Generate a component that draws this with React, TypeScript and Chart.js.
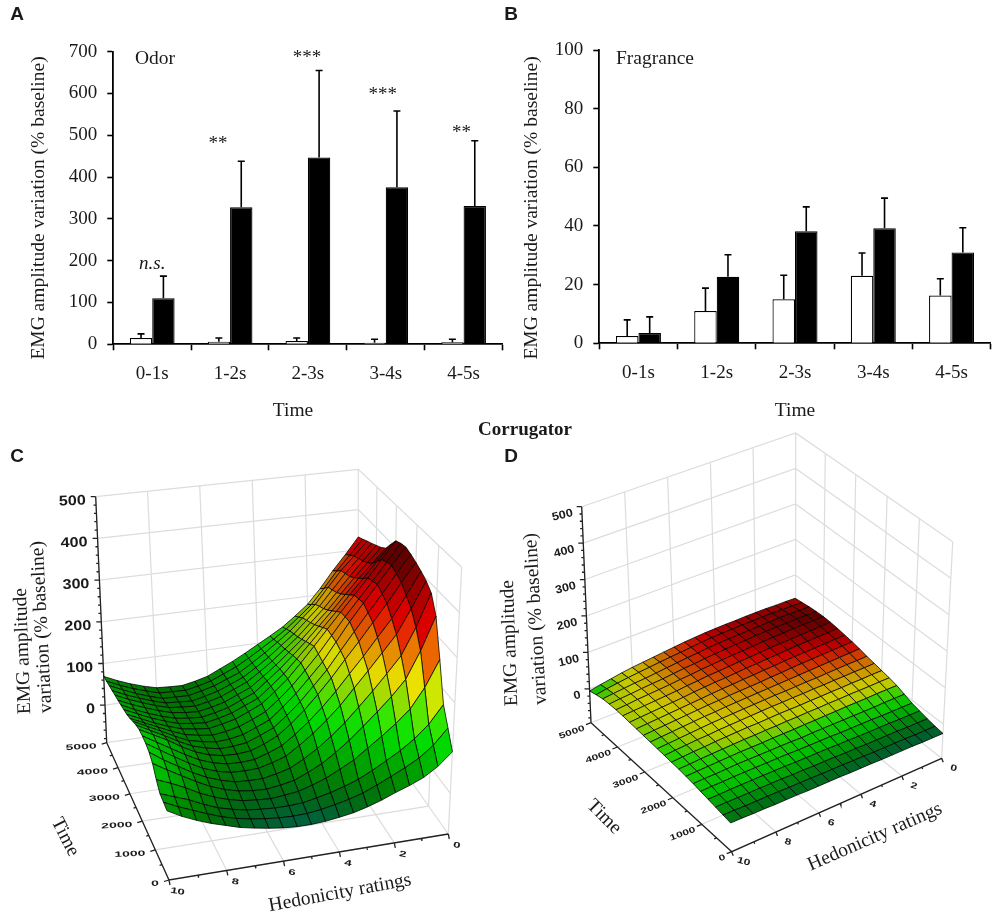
import { useEffect, useRef } from 'react';
import { Chart, registerables } from 'chart.js';

Chart.register(...registerables);

// Bar panels
const timeBins = ['0-1s', '1-2s', '2-3s', '3-4s', '4-5s'];

const odorPleasant = [15, 6, 8, 4, 5];
const odorPleasantTop = [25, 15, 15, 12, 12];
const odorUnpleasant = [110, 328, 447, 376, 331];
const odorUnpleasantTop = [163, 438, 655, 558, 487];
const odorSigLabels = ['n.s.', '**', '***', '***', '**'];
const odorSigValues = [192, 480, 684, 597, 506];
const odorSigShift = [0, -12, -1, -3, -2];

const fragrancePleasant = [2.5, 11, 15, 23, 16.3];
const fragrancePleasantTop = [8, 18.8, 23.2, 30.8, 22];
const fragranceUnpleasant = [3.5, 22.7, 38.2, 39.2, 31];
const fragranceUnpleasantTop = [9, 30.2, 46.5, 49.5, 39.4];

// Surface panels: one row per time step (0 to 5000), one column per rating (0 to 10)
const ratingSteps = [0, 0.5, 1, 1.5, 2, 2.5, 3, 3.5, 4, 4.5, 5, 5.5, 6, 6.5, 7, 7.5, 8, 8.5, 9, 9.5, 10];
const timeSteps = [0, 250, 500, 750, 1000, 1250, 1500, 1750, 2000, 2250, 2500, 2750, 3000, 3250, 3500, 3750, 4000, 4250, 4500, 4750, 5000];

const odorSurface = [
  [92, 64, 44, 31, 20, 8, -2, -10, -15, -19, -21, -21, -19, -15, -10, -4, 5, 14, 25, 38, 54],
  [130, 96, 72, 55, 40, 26, 13, 4, -3, -9, -13, -14, -13, -10, -6, 0, 8, 19, 31, 43, 57],
  [168, 128, 100, 78, 60, 43, 28, 17, 8, 1, -5, -7, -7, -5, -2, 4, 12, 24, 38, 49, 60],
  [255, 196, 152, 124, 100, 78, 56, 40, 25, 14, 5, 1, -2, 0, 3, 10, 20, 33, 49, 63, 75],
  [340, 265, 205, 170, 140, 112, 85, 62, 42, 27, 14, 8, 4, 5, 9, 17, 28, 43, 60, 77, 95],
  [380, 305, 245, 208, 173, 141, 110, 84, 61, 42, 26, 18, 12, 12, 14, 22, 33, 48, 66, 84, 105],
  [395, 335, 280, 242, 205, 170, 135, 106, 80, 58, 38, 28, 20, 19, 20, 27, 38, 54, 72, 91, 110],
  [405, 353, 303, 264, 225, 189, 153, 121, 93, 68, 47, 35, 25, 23, 24, 31, 42, 58, 76, 94, 112],
  [413, 370, 325, 285, 245, 208, 170, 136, 105, 78, 55, 41, 30, 27, 28, 34, 45, 61, 80, 96, 112],
  [420, 378, 335, 295, 255, 215, 175, 142, 110, 83, 59, 46, 34, 30, 29, 35, 44, 59, 76, 92, 108],
  [425, 385, 345, 305, 265, 222, 180, 147, 115, 88, 63, 50, 38, 32, 30, 35, 42, 56, 72, 87, 102],
  [422, 381, 340, 302, 264, 224, 185, 151, 119, 92, 68, 54, 42, 35, 31, 35, 41, 53, 67, 81, 95],
  [416, 375, 335, 298, 262, 226, 190, 155, 122, 96, 72, 58, 45, 38, 32, 35, 40, 50, 62, 76, 90],
  [396, 359, 322, 287, 251, 217, 183, 151, 120, 95, 71, 58, 45, 37, 31, 34, 38, 48, 59, 73, 87],
  [375, 342, 310, 275, 240, 207, 175, 146, 118, 94, 70, 57, 44, 36, 30, 32, 36, 45, 56, 69, 84],
  [365, 332, 299, 264, 229, 198, 167, 140, 114, 91, 69, 56, 43, 35, 29, 31, 35, 44, 55, 67, 81],
  [358, 324, 290, 255, 220, 190, 160, 135, 110, 88, 68, 55, 42, 34, 28, 30, 33, 42, 53, 65, 79],
  [351, 318, 285, 249, 213, 183, 154, 130, 106, 85, 66, 53, 41, 33, 26, 28, 30, 39, 50, 62, 76],
  [345, 312, 280, 243, 205, 176, 148, 125, 103, 83, 64, 52, 40, 32, 25, 26, 27, 36, 47, 60, 74],
  [338, 302, 267, 228, 192, 165, 140, 119, 100, 81, 64, 51, 38, 30, 24, 25, 26, 35, 45, 57, 71],
  [332, 292, 255, 215, 180, 155, 132, 114, 97, 80, 64, 50, 36, 28, 22, 23, 25, 33, 43, 55, 69],
];

const fragranceSurface = [
  [-25, -25, -25, -24, -24, -24, -24, -23, -23, -23, -22, -22, -22, -22, -21, -21, -21, -20, -20, -19, -19],
  [-22, -22, -22, -21, -21, -21, -21, -20, -20, -19, -19, -19, -18, -18, -18, -17, -17, -17, -17, -16, -16],
  [-18, -18, -18, -17, -17, -17, -17, -16, -16, -15, -15, -15, -14, -14, -13, -13, -13, -13, -13, -13, -13],
  [-13, -13, -13, -12, -12, -12, -12, -11, -11, -10, -10, -10, -10, -9, -9, -9, -9, -9, -9, -10, -10],
  [-8, -8, -8, -8, -7, -7, -7, -7, -6, -6, -6, -6, -5, -5, -5, -5, -5, -5, -6, -6, -7],
  [0, 0, 0, -1, -1, -1, -1, -1, -1, -1, -2, -1, -1, -1, -1, -1, -1, -2, -3, -3, -4],
  [8, 8, 8, 7, 7, 7, 6, 6, 5, 5, 4, 4, 4, 3, 3, 3, 2, 1, 0, -1, -2],
  [13, 13, 12, 12, 12, 11, 11, 10, 10, 9, 9, 8, 8, 7, 7, 6, 5, 4, 3, 1, 0],
  [17, 17, 16, 16, 15, 15, 14, 14, 13, 13, 13, 12, 11, 11, 10, 9, 8, 6, 5, 3, 1],
  [21, 20, 20, 19, 19, 18, 18, 17, 17, 16, 16, 15, 14, 13, 12, 11, 9, 8, 6, 4, 2],
  [25, 24, 24, 23, 22, 21, 21, 20, 19, 19, 18, 17, 16, 15, 14, 13, 11, 9, 7, 5, 3],
  [30, 29, 28, 27, 26, 25, 24, 23, 22, 21, 20, 19, 18, 17, 15, 14, 12, 10, 8, 6, 4],
  [34, 33, 32, 31, 30, 29, 28, 26, 25, 23, 22, 21, 20, 18, 17, 15, 13, 11, 9, 7, 5],
  [37, 36, 35, 34, 33, 32, 31, 29, 28, 26, 25, 23, 22, 20, 18, 16, 14, 12, 10, 8, 6],
  [40, 39, 38, 37, 36, 35, 33, 32, 30, 29, 27, 25, 24, 22, 20, 17, 15, 13, 11, 9, 7],
  [42, 41, 40, 39, 38, 37, 36, 34, 32, 31, 29, 27, 26, 23, 21, 18, 16, 14, 12, 10, 8],
  [43, 42, 42, 41, 40, 39, 38, 36, 34, 33, 31, 29, 27, 24, 22, 19, 17, 15, 13, 10, 8],
  [42, 42, 42, 41, 41, 40, 39, 37, 36, 34, 32, 30, 27, 25, 22, 19, 17, 15, 12, 10, 7],
  [40, 40, 41, 41, 40, 39, 38, 37, 36, 35, 33, 30, 28, 25, 22, 19, 16, 14, 11, 8, 5],
  [37, 38, 38, 39, 39, 38, 38, 37, 36, 35, 33, 30, 27, 25, 22, 19, 16, 13, 9, 5, 0],
  [34, 35, 35, 36, 36, 36, 35, 35, 34, 33, 31, 29, 26, 23, 20, 17, 14, 10, 5, 0, -6],
];

const zTicks = [0, 100, 200, 300, 400, 500];
const timeTicks = [0, 1000, 2000, 3000, 4000, 5000];
const ratingTicks = [0, 2, 4, 6, 8, 10];

const SERIF = '"Liberation Serif"';
const SANS = '"Liberation Sans"';

type Pt = { x: number; y: number };
type Label = { text: string; x: number; y: number; font: string; rot?: number; sx?: number; sy?: number; align?: CanvasTextAlign };

const serifTitle = `19.5px ${SERIF}`;

const pageLabels: Label[] = [
  { text: 'A', x: 17, y: 15, font: `bold 19px ${SANS}` },
  { text: 'B', x: 511, y: 15, font: `bold 19px ${SANS}` },
  { text: 'C', x: 17, y: 457, font: `bold 19px ${SANS}` },
  { text: 'D', x: 511, y: 457, font: `bold 19px ${SANS}` },
  { text: 'Corrugator', x: 525, y: 430, font: `bold 19px ${SERIF}` },
];

const drawLabels = (ctx: CanvasRenderingContext2D, labels: Label[]) => {
  labels.forEach((l) => {
    ctx.save();
    ctx.translate(l.x, l.y);
    ctx.rotate(((l.rot || 0) * Math.PI) / 180);
    ctx.scale(l.sx || 1, l.sy || 1);
    ctx.font = l.font;
    ctx.fillStyle = '#1a1a1a';
    ctx.textAlign = l.align || 'center';
    ctx.textBaseline = 'middle';
    ctx.fillText(l.text, 0, 0);
    ctx.restore();
  });
};

// whiskers, significance marks and free text of a bar panel
const barExtras = {
  id: 'barExtras',
  afterDatasetsDraw(chart: any, _args: any, opts: any) {
    const { ctx } = chart;
    const y = chart.scales.y;
    chart.data.datasets.forEach((ds: any, i: number) => {
      chart.getDatasetMeta(i).data.forEach((bar: any, k: number) => {
        const top = y.getPixelForValue(ds.errorTop[k]);
        ctx.save();
        ctx.strokeStyle = '#000';
        ctx.lineWidth = 1.6;
        ctx.beginPath();
        ctx.moveTo(bar.x, bar.y);
        ctx.lineTo(bar.x, top);
        ctx.moveTo(bar.x - 3.5, top);
        ctx.lineTo(bar.x + 3.5, top);
        ctx.stroke();
        ctx.restore();
      });
    });
    const sig = (opts.sigLabels || []).map((text: string, k: number) => ({
      text,
      x: chart.scales.x.getPixelForValue(k) + opts.sigShift[k],
      y: y.getPixelForValue(opts.sigValues[k]),
      font: text === 'n.s.' ? `italic 19px ${SERIF}` : `19px ${SERIF}`,
    }));
    drawLabels(ctx, sig);
    drawLabels(ctx, opts.labels);
  },
};

const makeBars = (canvas: HTMLCanvasElement, cfg: any) =>
  new Chart(canvas, {
    type: 'bar',
    data: {
      labels: timeBins,
      datasets: [
        { data: cfg.pleasant, errorTop: cfg.pleasantTop, backgroundColor: '#fff', borderColor: '#000', borderWidth: 1.2 },
        { data: cfg.unpleasant, errorTop: cfg.unpleasantTop, backgroundColor: '#000', borderColor: '#000', borderWidth: 1.2 },
      ] as any,
    },
    options: {
      responsive: false,
      animation: false,
      events: [],
      layout: { padding: cfg.padding },
      datasets: { bar: { categoryPercentage: 0.575, barPercentage: 1 } },
      plugins: {
        legend: { display: false },
        tooltip: { enabled: false },
        barExtras: cfg.extras,
      } as any,
      scales: {
        x: {
          afterFit: (s: any) => { s.height = 60; },
          border: { color: '#000', width: 1.8 },
          grid: { drawOnChartArea: false, color: '#000', tickColor: '#000', tickLength: 6, tickWidth: 1.6 },
          ticks: { color: '#1a1a1a', font: { family: SERIF, size: 19 }, padding: 12, maxRotation: 0, autoSkip: false },
        },
        y: {
          min: 0,
          max: cfg.max,
          afterFit: (s: any) => { s.width = 90; },
          border: { color: '#000', width: 1.8 },
          grid: { drawOnChartArea: false, color: '#000', tickColor: '#000', tickLength: 6, tickWidth: 1.6 },
          ticks: { color: '#1a1a1a', font: { family: SERIF, size: 19 }, padding: 10, stepSize: cfg.step },
        },
      },
    },
    plugins: [barExtras],
  } as any);

// maps the unit square on a four-cornered outline, so the box keeps its perspective
const squareToQuad = (q: Pt[]) => {
  const [p0, p1, p2, p3] = q;
  const dx1 = p1.x - p2.x, dx2 = p3.x - p2.x, sx = p0.x - p1.x + p2.x - p3.x;
  const dy1 = p1.y - p2.y, dy2 = p3.y - p2.y, sy = p0.y - p1.y + p2.y - p3.y;
  const den = dx1 * dy2 - dx2 * dy1;
  const g = (sx * dy2 - dx2 * sy) / den;
  const h = (dx1 * sy - sx * dy1) / den;
  const a = p1.x - p0.x + g * p1.x, b = p3.x - p0.x + h * p3.x;
  const d = p1.y - p0.y + g * p1.y, e = p3.y - p0.y + h * p3.y;
  return (u: number, v: number): Pt => {
    const w = g * u + h * v + 1;
    return { x: (a * u + b * v + p0.x) / w, y: (d * u + e * v + p0.y) / w };
  };
};

const hexToRgb = (c: string) => [1, 3, 5].map((i) => parseInt(c.slice(i, i + 2), 16));

const colorFor = (stops: [number, string][], z: number, shade: number) => {
  let rgb = hexToRgb(stops[stops.length - 1][1]);
  if (z <= stops[0][0]) rgb = hexToRgb(stops[0][1]);
  else {
    for (let i = 1; i < stops.length; i++) {
      if (z <= stops[i][0]) {
        const f = (z - stops[i - 1][0]) / (stops[i][0] - stops[i - 1][0]);
        const a = hexToRgb(stops[i - 1][1]), b = hexToRgb(stops[i][1]);
        rgb = a.map((v, k) => v + (b[k] - v) * f);
        break;
      }
    }
  }
  return `rgb(${rgb.map((v) => Math.round(v * shade)).join(',')})`;
};

// cells of the surface, painted from the far corner to the near one
const surfaceCells = {
  id: 'surfaceCells',
  afterDatasetsDraw(chart: any, _args: any, opts: any) {
    const { ctx } = chart;
    const pts = chart.getDatasetMeta(2).data;
    const nr = timeSteps.length, nc = ratingSteps.length;
    const idx = (r: number, c: number) => r * nc + c;
    for (let r = nr - 2; r >= 0; r--) {
      for (let c = 0; c < nc - 1; c++) {
        const q = [pts[idx(r, c)], pts[idx(r, c + 1)], pts[idx(r + 1, c + 1)], pts[idx(r + 1, c)]];
        const avg = (opts.values[r][c] + opts.values[r][c + 1] + opts.values[r + 1][c] + opts.values[r + 1][c + 1]) / 4;
        // squeezed cells read darker, their mesh lines crowd together
        const area = Math.abs((q[2].x - q[0].x) * (q[3].y - q[1].y) - (q[3].x - q[1].x) * (q[2].y - q[0].y)) / 2;
        const shade = 1 - Math.min(0.6, 2 / Math.max(Math.sqrt(area), 1));
        ctx.beginPath();
        q.forEach((p: any, i: number) => (i ? ctx.lineTo(p.x, p.y) : ctx.moveTo(p.x, p.y)));
        ctx.closePath();
        ctx.fillStyle = colorFor(opts.stops, avg, shade);
        ctx.fill();
        ctx.strokeStyle = 'rgba(0,0,0,0.85)';
        ctx.lineWidth = 0.9;
        ctx.stroke();
      }
    }
    drawLabels(ctx, opts.labels);
  },
};

const makeSurface = (canvas: HTMLCanvasElement, cfg: any) => {
  const floor = squareToQuad(cfg.floor);
  const top = squareToQuad(cfg.top);
  const project = (rating: number, time: number, z: number): Pt => {
    const a = floor(rating / 10, time / 5000);
    const b = top(rating / 10, time / 5000);
    const f = (z - cfg.zMin) / (500 - cfg.zMin);
    return { x: a.x + (b.x - a.x) * f, y: a.y + (b.y - a.y) * f };
  };
  const gap = { x: NaN, y: NaN };

  const grid: Pt[] = [];
  timeTicks.forEach((t) => {
    grid.push(project(0, t, cfg.zMin), project(0, t, 500), gap);
    grid.push(project(0, t, cfg.zMin), project(10, t, cfg.zMin), gap);
  });
  ratingTicks.forEach((h) => {
    grid.push(project(h, 5000, cfg.zMin), project(h, 5000, 500), gap);
    grid.push(project(h, 0, cfg.zMin), project(h, 5000, cfg.zMin), gap);
  });
  zTicks.forEach((z) => {
    grid.push(project(10, 5000, z), project(0, 5000, z), project(0, 0, z), gap);
  });
  grid.push(project(10, 5000, 500), project(0, 5000, 500), project(0, 0, 500), gap);

  const axes: Pt[] = [project(10, 5000, 500), project(10, 5000, cfg.zMin), project(10, 0, cfg.zMin), project(0, 0, cfg.zMin), gap];
  const tick = (p: Pt, dx: number, dy: number) => axes.push(p, { x: p.x + dx, y: p.y + dy }, gap);
  for (let z = -80; z <= 500; z += 20) tick(project(10, 5000, z), z % 100 === 0 ? -5 : -2.5, 0);
  for (let t = 0; t <= 5000; t += 500) tick(project(10, t, cfg.zMin), t % 1000 === 0 ? cfg.timeTick[0] : cfg.timeTick[0] / 2, t % 1000 === 0 ? cfg.timeTick[1] : cfg.timeTick[1] / 2);
  for (let h = 0; h <= 10; h += 1) tick(project(h, 0, cfg.zMin), h % 2 === 0 ? cfg.ratingTick[0] : cfg.ratingTick[0] / 2, h % 2 === 0 ? cfg.ratingTick[1] : cfg.ratingTick[1] / 2);

  const points: Pt[] = [];
  timeSteps.forEach((t, r) => ratingSteps.forEach((h, c) => points.push(project(h, t, cfg.values[r][c]))));

  const labels: Label[] = [...cfg.titles];
  const tickFont = `bold 11px ${SANS}`;
  zTicks.forEach((z) => {
    const p = project(10, 5000, z);
    labels.push({ text: String(z), x: p.x + cfg.zLabel.dx, y: p.y + cfg.zLabel.dy, font: cfg.zLabel.font, align: 'right', ...cfg.zLabel.style });
  });
  timeTicks.forEach((t) => {
    const p = project(10, t, cfg.zMin);
    labels.push({ text: String(t), x: p.x + cfg.timeLabel.dx, y: p.y + cfg.timeLabel.dy, font: tickFont, align: 'right', ...cfg.timeLabel.style });
  });
  ratingTicks.forEach((h) => {
    const p = project(h, 0, cfg.zMin);
    labels.push({ text: String(h), x: p.x + cfg.ratingLabel.dx, y: p.y + cfg.ratingLabel.dy, font: tickFont, ...cfg.ratingLabel.style });
  });

  return new Chart(canvas, {
    type: 'scatter',
    data: {
      datasets: [
        { data: axes, showLine: true, pointRadius: 0, borderColor: '#222', borderWidth: 1.3, order: 1, spanGaps: false },
        { data: grid, showLine: true, pointRadius: 0, borderColor: '#dcdcdc', borderWidth: 1.2, order: 2, spanGaps: false },
        { data: points, showLine: false, pointRadius: 0, order: 0 },
      ],
    },
    options: {
      responsive: false,
      animation: false,
      events: [],
      plugins: {
        legend: { display: false },
        tooltip: { enabled: false },
        surfaceCells: { values: cfg.values, stops: cfg.stops, labels },
      } as any,
      scales: {
        x: { type: 'linear', min: 0, max: 1000, display: false },
        y: { type: 'linear', min: 0, max: 920, reverse: true, display: false },
      },
    },
    plugins: [surfaceCells],
  } as any);
};

const odorStops: [number, string][] = [
  [-25, '#00705a'], [0, '#007a18'], [30, '#009800'], [65, '#00c800'], [100, '#00f600'], [130, '#30ff00'],
  [170, '#b4f400'], [200, '#ffff00'], [240, '#ffa800'], [280, '#ff4800'], [310, '#ff0000'], [370, '#b00000'], [425, '#480000'],
];

const fragranceStops: [number, string][] = [
  [-25, '#006f44'], [-18, '#008c14'], [-8, '#00e800'], [3, '#30ff00'], [8, '#d0f800'], [13, '#ffff00'],
  [20, '#ffb000'], [27, '#ff4800'], [33, '#f80000'], [40, '#a00000'], [44, '#600000'],
];

export default function App() {
  const aRef = useRef<HTMLCanvasElement | null>(null);
  const bRef = useRef<HTMLCanvasElement | null>(null);
  const cRef = useRef<HTMLCanvasElement | null>(null);
  const dRef = useRef<HTMLCanvasElement | null>(null);

  useEffect(() => {
    const charts = [
      makeBars(aRef.current!, {
        pleasant: odorPleasant,
        pleasantTop: odorPleasantTop,
        unpleasant: odorUnpleasant,
        unpleasantTop: odorUnpleasantTop,
        max: 700,
        step: 100,
        padding: { left: 23.3, right: 497.5, top: 51.7, bottom: 515.7 },
        extras: {
          sigLabels: odorSigLabels,
          sigValues: odorSigValues,
          sigShift: odorSigShift,
          labels: [
            ...pageLabels,
            { text: 'Odor', x: 155, y: 59, font: serifTitle },
            { text: 'Time', x: 293, y: 411, font: serifTitle },
            { text: 'EMG amplitude variation (% baseline)', x: 39, y: 208, font: serifTitle, rot: -90 },
          ],
        },
      }),
      makeBars(bRef.current!, {
        pleasant: fragrancePleasant,
        pleasantTop: fragrancePleasantTop,
        unpleasant: fragranceUnpleasant,
        unpleasantTop: fragranceUnpleasantTop,
        max: 100,
        step: 20,
        padding: { left: 509.3, right: 9.3, top: 50, bottom: 516.7 },
        extras: {
          labels: [
            { text: 'Fragrance', x: 655, y: 59, font: serifTitle },
            { text: 'Time', x: 795, y: 411, font: serifTitle },
            { text: 'EMG amplitude variation (% baseline)', x: 532, y: 208, font: serifTitle, rot: -90 },
          ],
        },
      }),
      makeSurface(cRef.current!, {
        values: odorSurface,
        stops: odorStops,
        zMin: -90,
        floor: [{ x: 448.3, y: 834 }, { x: 169, y: 880 }, { x: 106.7, y: 742.7 }, { x: 358.3, y: 706.7 }],
        top: [{ x: 461.7, y: 567.3 }, { x: 161, y: 596.7 }, { x: 95.7, y: 496.7 }, { x: 358.3, y: 469.3 }],
        timeTick: [-5, 1.5],
        ratingTick: [1, 5],
        zLabel: { dx: -10, dy: 4, font: `bold 14px ${SANS}`, style: { sx: 1.15, sy: 1, rot: -2 } },
        timeLabel: { dx: -10, dy: 3.5, style: { sx: 1.27, sy: 0.7, rot: -3 } },
        ratingLabel: { dx: 8.5, dy: 11.5, style: { sx: 1.2, sy: 0.75, rot: 10 } },
        titles: [
          { text: 'EMG amplitude', x: 23, y: 651, font: serifTitle, rot: -92 },
          { text: 'variation (% baseline)', x: 42, y: 627, font: serifTitle, rot: -93 },
          { text: 'Time', x: 65, y: 837, font: serifTitle, rot: 63 },
          { text: 'Hedonicity ratings', x: 340, y: 893, font: serifTitle, rot: -10.5 },
        ],
      }),
      makeSurface(dRef.current!, {
        values: fragranceSurface,
        stops: fragranceStops,
        zMin: -93,
        floor: [{ x: 941.7, y: 758.3 }, { x: 731.7, y: 851.7 }, { x: 591, y: 722.7 }, { x: 795, y: 643.3 }],
        top: [{ x: 952.7, y: 541.7 }, { x: 723.3, y: 621.7 }, { x: 581.7, y: 506.7 }, { x: 795.7, y: 433 }],
        timeTick: [-5, 2],
        ratingTick: [1.5, 4],
        zLabel: { dx: -9, dy: 6, font: `bold 12px ${SANS}`, style: { sx: 1.05, sy: 0.95, rot: -14 } },
        timeLabel: { dx: -6.5, dy: 5, style: { sx: 1.1, sy: 0.75, rot: -20 } },
        ratingLabel: { dx: 12, dy: 10, style: { sx: 1.1, sy: 0.8, rot: 15 } },
        titles: [
          { text: 'EMG amplitude', x: 510, y: 643, font: serifTitle, rot: -92 },
          { text: 'variation (% baseline)', x: 536, y: 619, font: serifTitle, rot: -93.5 },
          { text: 'Time', x: 604, y: 817, font: serifTitle, rot: 45 },
          { text: 'Hedonicity ratings', x: 875, y: 837, font: serifTitle, rot: -23.7 },
        ],
      }),
    ];
    return () => charts.forEach((c) => c.destroy());
  }, []);

  const layer = { position: 'absolute', left: 0, top: 0 } as const;
  return (
    <div style={{ position: 'absolute', left: 0, top: 0, width: 1000, height: 920, background: '#fff' }}>
      <canvas ref={aRef} width={1000} height={920} style={layer} />
      <canvas ref={bRef} width={1000} height={920} style={layer} />
      <canvas ref={cRef} width={1000} height={920} style={layer} />
      <canvas ref={dRef} width={1000} height={920} style={layer} />
    </div>
  );
}
